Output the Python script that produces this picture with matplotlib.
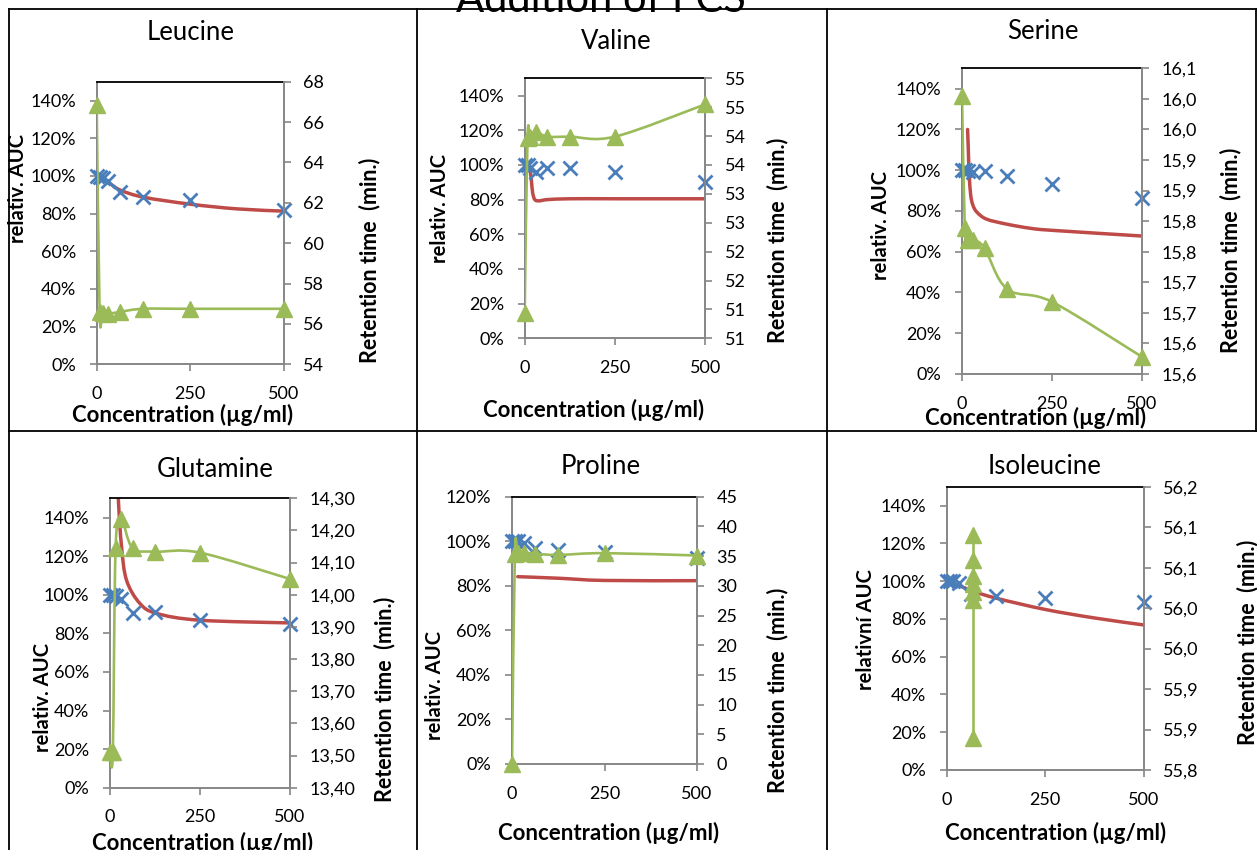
import numpy as np
import matplotlib.pyplot as plt
from matplotlib.path import Path
from matplotlib.patches import PathPatch
from matplotlib.lines import Line2D

plt.rcParams['font.family'] = ['Lato', 'DejaVu Sans']

W, H = 1257, 850

# concentrations (µg/ml)
conc = [0, 7.8, 15.6, 31.25, 62.5, 125, 250, 500]

# Leucine
leu_auc = [100, 99.5, 99, 97.5, 91.5, 89, 87, 82]
leu_fit_x = [0, 31.25, 62.5, 125, 250, 375, 500]
leu_fit_y = [100, 96.5, 92.5, 88.7, 85, 82.5, 81.3]
leu_rt = [66.85, 56.6, 56.55, 56.5, 56.6, 56.75, 56.75, 56.75]
leu_rt_ticks = [54, 56, 58, 60, 62, 64, 66, 68]
leu_rt_labels = ['54', '56', '58', '60', '62', '64', '66', '68']

# Valine
val_auc = [100, 100, 98, 96, 98, 98, 96, 90]
val_fit_x = [15.6, 19, 22, 28, 40, 62.5, 125, 250, 500]
val_fit_y = [96, 90, 84, 80, 79.3, 80, 80.5, 80.5, 80.5]
val_rt = [50.94, 53.96, 53.98, 54.07, 53.99, 53.99, 53.99, 54.55]
val_rt_ticks = [50.5, 51, 51.5, 52, 52.5, 53, 53.5, 54, 54.5, 55]
val_rt_labels = ['51', '51', '52', '52', '53', '53', '54', '54', '55', '55']

# Serine
ser_auc = [100, 100, 99.7, 99, 99.5, 97, 93.2, 86.6]
ser_fit_x = [15.6, 17.5, 20, 24, 30, 41, 68, 125, 190, 250, 500]
ser_fit_y = [120, 110, 98, 88, 83, 79.5, 76, 73.5, 71.5, 70.5, 67.7]
ser_rt = [16.004, 15.788, 15.769, 15.769, 15.756, 15.689, 15.668, 15.578]
ser_rt_ticks = [15.55, 15.6, 15.65, 15.7, 15.75, 15.8, 15.85, 15.9, 15.95, 16.0, 16.05]
ser_rt_labels = ['15,6', '15,6', '15,7', '15,7', '15,8', '15,8', '15,9', '15,9',
                 '16,0', '16,0', '16,1']

# Glutamine
glu_auc = [100, 100, 99.5, 98, 90.6, 91, 86.7, 84.8]
glu_fit_x = [18, 23, 32, 46, 83, 130, 250, 500]
glu_fit_y = [175, 150, 125, 107.5, 95.5, 90.3, 86.8, 85.4]
glu_rt = [13.51, 13.51, 14.145, 14.235, 14.145, 14.134, 14.131, 14.049]
glu_rt_ticks = [13.4, 13.5, 13.6, 13.7, 13.8, 13.9, 14.0, 14.1, 14.2, 14.3]
glu_rt_labels = ['13,40', '13,50', '13,60', '13,70', '13,80', '13,90', '14,00',
                 '14,10', '14,20', '14,30']

# Proline
pro_auc = [100, 100, 100, 99, 97, 96, 95, 92.5]
pro_fit_x = [15.6, 125, 250, 500]
pro_fit_y = [84.1, 83.4, 82.4, 82.3]
pro_rt = [0, 35.4, 35.5, 35.6, 35.4, 35.2, 35.5, 35.1]
pro_rt_ticks = [0, 5, 10, 15, 20, 25, 30, 35, 40, 45]
pro_rt_labels = ['0', '5', '10', '15', '20', '25', '30', '35', '40', '45']

# Isoleucine
iso_auc = [100, 100, 100, 99, 93, 92, 91, 88.7]
iso_fit_x = [7.8, 62.5, 125, 250, 375, 500]
iso_fit_y = [99.8, 95, 91, 85, 80.5, 76.8]
iso_rt_x = [67, 67, 67, 67, 67, 67, 67]
iso_rt = [55.84, 56.01, 56.02, 56.03, 56.04, 56.06, 56.09]
iso_rt_ticks = [55.8, 55.85, 55.9, 55.95, 56.0, 56.05, 56.1, 56.15]
iso_rt_labels = ['55,8', '55,9', '55,9', '56,0', '56,0', '56,1', '56,1', '56,2']

auc_ticks = [0, 20, 40, 60, 80, 100, 120, 140]

BLUE = '#4A7EBB'
RED = '#BE4B48'
GREEN = '#9BBB59'
GRAY = '#868686'

fig = plt.figure(figsize=(W / 100, H / 100), dpi=100)
fig.patch.set_facecolor('white')


def fig_text(x, y, s, **kw):
    fig.text(x / W, 1 - y / H, s, ha='center', va='center', **kw)


def smooth(ax, xs, ys, color, lw, z):
    # Excel style smoothed line: cubic bezier through the points
    pts = np.column_stack([xs, ys]).astype(float)
    n = len(pts)
    verts = [pts[0]]
    codes = [Path.MOVETO]
    for i in range(n - 1):
        p0 = pts[max(i - 1, 0)]
        p1 = pts[i]
        p2 = pts[i + 1]
        p3 = pts[min(i + 2, n - 1)]
        verts += [p1 + (p2 - p0) / 6, p2 - (p3 - p1) / 6, p2]
        codes += [Path.CURVE4] * 3
    ax.add_patch(PathPatch(Path(verts, codes), fill=False, edgecolor=color,
                           lw=lw, zorder=z, capstyle='round', joinstyle='round'))


def panel(box, title, auc, fit_x, fit_y, rt_x, rt, rt_ticks, rt_labels,
          auc_top, ylab, pos, rt_smooth=True):
    l, t, r, b = box
    ax = fig.add_axes([l / W, 1 - b / H, (r - l) / W, (b - t) / H])
    ax2 = ax.twinx()

    smooth(ax, fit_x, fit_y, RED, 2.5, 2)
    ax.plot(conc, auc, ls='none', marker='x', ms=10, mew=2, color=BLUE,
            zorder=3, clip_on=False)

    if rt_smooth:
        smooth(ax2, rt_x, rt, GREEN, 1.9, 2)
    else:
        ax2.plot(rt_x, rt, color=GREEN, lw=1.9, zorder=2)
    ax2.plot(rt_x, rt, ls='none', marker='^', ms=11, color=GREEN, zorder=3,
             clip_on=False)

    ax.set_xlim(0, 500)
    ax.set_xticks([0, 250, 500])
    ax.set_ylim(0, auc_top)
    ticks = [v for v in auc_ticks if v <= auc_top]
    ax.set_yticks(ticks)
    ax.set_yticklabels([f'{v}%' for v in ticks])
    ax2.set_ylim(rt_ticks[0], rt_ticks[-1])
    ax2.set_yticks(rt_ticks)
    ax2.set_yticklabels(rt_labels)

    for sp in ['left', 'bottom']:
        ax.spines[sp].set_color(GRAY)
        ax.spines[sp].set_linewidth(1.4)
    ax.spines['top'].set_color('black')
    ax.spines['top'].set_linewidth(1.3)
    ax.spines['right'].set_visible(False)
    for sp in ['left', 'bottom', 'top']:
        ax2.spines[sp].set_visible(False)
    ax2.spines['right'].set_color(GRAY)
    ax2.spines['right'].set_linewidth(1.4)

    ax.tick_params(axis='y', direction='out', length=5, width=1.2, color=GRAY,
                   labelsize=13, pad=10)
    ax.tick_params(axis='x', direction='out', length=5, width=1.2, color=GRAY,
                   labelsize=13, pad=10.5)
    ax2.tick_params(axis='y', direction='out', length=5, width=1.2, color=GRAY,
                    labelsize=13, pad=9)

    fig_text(*pos['title'], title, fontsize=18.5)
    fig_text(*pos['xlab'], 'Concentration (µg/ml)', fontsize=16, fontweight='bold')
    fig_text(*pos['ylab'], ylab, fontsize=14.5, fontweight='bold', rotation=90)
    fig_text(*pos['rlab'], 'Retention time  (min.)', fontsize=15.5,
             fontweight='bold', rotation=90)


# frame lines of the chart boxes
for x in [9, 417, 827]:
    fig.add_artist(Line2D([x / W, x / W], [0, 1 - 9 / H], color='black', lw=1.3))
fig.add_artist(Line2D([1255.5 / W, 1255.5 / W], [1 - 431 / H, 1 - 9 / H],
                      color='black', lw=1.3))
for y in [9, 431]:
    fig.add_artist(Line2D([9 / W, 1], [1 - y / H, 1 - y / H], color='black', lw=1.3))

panel((96.7, 81.7, 283.7, 364.3), 'Leucine', leu_auc, leu_fit_x, leu_fit_y,
      conc, leu_rt, leu_rt_ticks, leu_rt_labels, 150, 'relativ. AUC',
      dict(title=(191, 32), xlab=(182.5, 415), ylab=(18, 188.5), rlab=(370, 260)))
panel((524.7, 78.3, 705.3, 338.3), 'Valine', val_auc, val_fit_x, val_fit_y,
      conc, val_rt, val_rt_ticks, val_rt_labels, 150, 'relativ. AUC',
      dict(title=(616.3, 41.7), xlab=(593.8, 410), ylab=(439.7, 208.3), rlab=(778, 240)))
panel((962, 68.3, 1142, 374), 'Serine', ser_auc, ser_fit_x, ser_fit_y,
      conc, ser_rt, ser_rt_ticks, ser_rt_labels, 150, 'relativ. AUC',
      dict(title=(1042.7, 31.7), xlab=(1036, 418.3), ylab=(881, 225.8), rlab=(1231, 250)))
panel((110, 498.3, 290, 787.7), 'Glutamine', glu_auc, glu_fit_x, glu_fit_y,
      conc, glu_rt, glu_rt_ticks, glu_rt_labels, 150, 'relativ. AUC',
      dict(title=(215.3, 469.3), xlab=(202.5, 843.3), ylab=(43.3, 697.5), rlab=(385, 699)))
panel((512, 496.7, 697, 764), 'Proline', pro_auc, pro_fit_x, pro_fit_y,
      conc, pro_rt, pro_rt_ticks, pro_rt_labels, 120, 'relativ. AUC',
      dict(title=(600.7, 466), xlab=(608.8, 833.3), ylab=(434.7, 685.8), rlab=(778, 690.8)))
panel((946.7, 486.7, 1143.7, 770), 'Isoleucine', iso_auc, iso_fit_x, iso_fit_y,
      iso_rt_x, iso_rt, iso_rt_ticks, iso_rt_labels, 150, 'relativní AUC',
      dict(title=(1044.3, 466), xlab=(1055.2, 833.3), ylab=(866, 629.2), rlab=(1247.7, 642.5)),
      rt_smooth=False)

fig.text(601 / W, 1 - 12 / H, 'Addition of FCS', ha='center', va='baseline', fontsize=30)

fig.savefig('out.png', dpi=100)
